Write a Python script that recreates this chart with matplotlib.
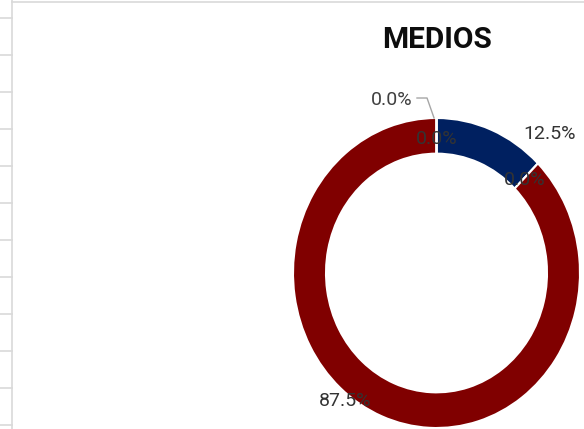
import numpy as np
import matplotlib.pyplot as plt
from matplotlib.lines import Line2D

# datos del gráfico de anillo
categorias = ['Opción 1', 'Opción 2', 'Opción 3', 'Opción 4', 'Opción 5']
valores = [1, 0, 7, 0, 0]
colores = ['#002060', '#7f7f7f', '#800000', '#a5a5a5', '#ffc000']
titulo = 'MEDIOS'

W, H = 584, 429
fig = plt.figure(figsize=(W / 100, H / 100), dpi=100)

# cuadrícula de la hoja de cálculo a la izquierda
gris = '#d9d9d9'
fig.add_artist(Line2D([11.5 / W, 11.5 / W], [0, 1], color=gris, lw=1.2))
fig.add_artist(Line2D([11.5 / W, 1], [1 - 1.5 / H, 1 - 1.5 / H], color=gris, lw=1.2))
for yp in np.arange(18, H, 37):
    fig.add_artist(Line2D([0, 11.5 / W], [1 - yp / H, 1 - yp / H], color=gris, lw=1.2))

# ejes del anillo (elipse levemente estirada como en Excel)
cx, cy, rx, ry = 436.5, 273, 143.5, 155
ax = fig.add_axes([(cx - rx) / W, 1 - (cy + ry) / H, 2 * rx / W, 2 * ry / H])
wedges, _, pcts = ax.pie(valores, colors=colores, startangle=90, counterclock=False,
                         autopct='%1.1f%%', pctdistance=0.88,
                         wedgeprops=dict(width=0.23, edgecolor='white', linewidth=1.5),
                         textprops=dict(fontsize=14, color='#333333', family='Roboto'))
ax.set_aspect('auto')
ax.set_xlim(-1, 1)
ax.set_ylim(-1, 1)
ax.axis('off')

# posiciones de las etiquetas como las deja Excel
pos = [(0.791, 0.897), (0.617, 0.60), (-0.638, -0.826), (0.0035, 0.865), (-0.165, 1.116)]
for t, p in zip(pcts, pos):
    t.set_position(p)
    t.set_clip_on(False)
pcts[4].set_ha('right')
pcts[4].set_color('#404040')
ax.plot([-0.136, -0.066, -0.017], [1.129, 1.129, 1.0], color='#a6a6a6', lw=1,
        clip_on=False)

fig.text(437 / W, 1 - 40 / H, titulo, ha='center', va='center', fontsize=21.5,
         fontweight='bold', family='Roboto', color='#0d0d0d')

fig.savefig('out.png', dpi=100)
